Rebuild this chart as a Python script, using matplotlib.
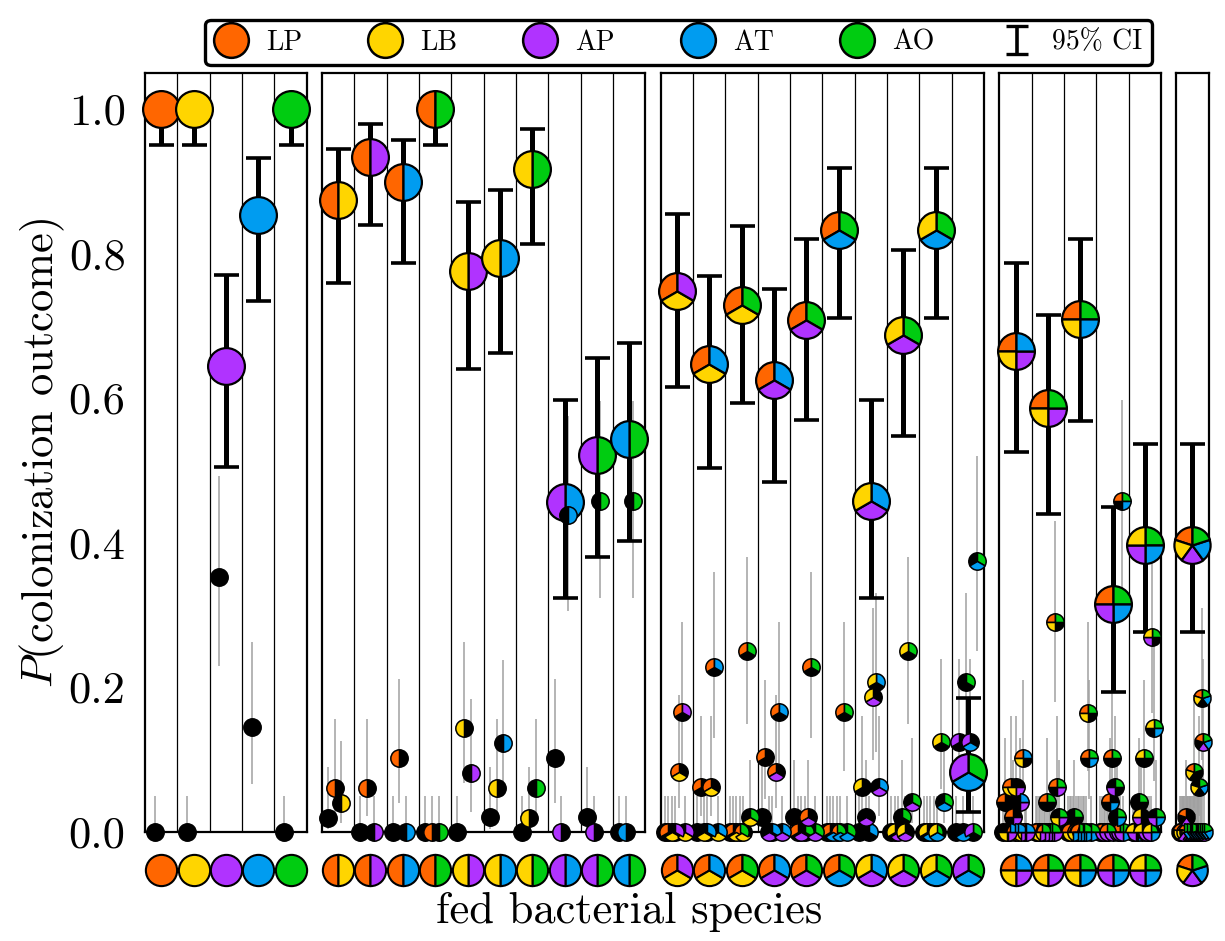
import itertools
import numpy as np
import matplotlib
matplotlib.use('Agg')
import matplotlib.pyplot as plt
from matplotlib.path import Path
from matplotlib.lines import Line2D

plt.rcParams['font.family'] = 'serif'
plt.rcParams['font.serif'] = ['cmr10', 'DejaVu Serif']
plt.rcParams['mathtext.fontset'] = 'cm'
plt.rcParams['axes.formatter.use_mathtext'] = True

# ---- data ----
SPECIES = ['LP', 'LB', 'AP', 'AT', 'AO']
COLORS = {'LP': '#ff6600', 'LB': '#ffd500', 'AP': '#b033ff',
          'AT': '#009cf0', 'AO': '#00cc11'}

PANELS = [
    ['LP', 'LB', 'AP', 'AT', 'AO'],
    ['LP-LB', 'LP-AP', 'LP-AT', 'LP-AO', 'LB-AP', 'LB-AT', 'LB-AO',
     'AP-AT', 'AP-AO', 'AT-AO'],
    ['LP-LB-AP', 'LP-LB-AT', 'LP-LB-AO', 'LP-AP-AT', 'LP-AP-AO',
     'LP-AT-AO', 'LB-AP-AT', 'LB-AP-AO', 'LB-AT-AO', 'AP-AT-AO'],
    ['LP-LB-AP-AT', 'LP-LB-AP-AO', 'LP-LB-AT-AO', 'LP-AP-AT-AO',
     'LB-AP-AT-AO'],
    ['LP-LB-AP-AT-AO'],
]

# probability that the whole fed community survives, with 95% CI
FULL_P = [1.0, 1.0, 0.645, 0.853, 1.0,
          0.875, 0.934, 0.899, 1.0, 0.776, 0.794, 0.917, 0.457, 0.521, 0.543,
          0.749, 0.647, 0.729, 0.625, 0.708, 0.833, 0.458, 0.688, 0.833, 0.083,
          0.665, 0.586, 0.709, 0.316, 0.397,
          0.397]
FULL_LO = [0.95, 0.95, 0.505, 0.734, 0.95,
           0.76, 0.84, 0.787, 0.95, 0.64, 0.662, 0.814, 0.324, 0.381, 0.402,
           0.615, 0.504, 0.593, 0.484, 0.57, 0.711, 0.324, 0.548, 0.711, 0.028,
           0.526, 0.44, 0.568, 0.194, 0.277,
           0.277]
FULL_HI = [1.0, 1.0, 0.77, 0.933, 1.0,
           0.945, 0.98, 0.958, 1.0, 0.871, 0.888, 0.972, 0.598, 0.656, 0.676,
           0.855, 0.769, 0.838, 0.751, 0.821, 0.918, 0.597, 0.805, 0.918, 0.185,
           0.787, 0.715, 0.821, 0.45, 0.537,
           0.537]

# other (partial) outcomes that were observed: community, outcome, p, lo, hi
PARTIAL = [
    ('AP', '', 0.353, 0.229, 0.493),
    ('AT', '', 0.145, 0.066, 0.263),
    ('LP-LB', '', 0.02, 0.004, 0.09),
    ('LP-LB', 'LP', 0.061, 0.022, 0.156),
    ('LP-LB', 'LB', 0.04, 0.012, 0.126),
    ('LP-AP', 'LP', 0.061, 0.022, 0.156),
    ('LP-AT', 'LP', 0.102, 0.04, 0.212),
    ('LB-AP', 'LB', 0.144, 0.068, 0.263),
    ('LB-AP', 'AP', 0.082, 0.028, 0.184),
    ('LB-AT', '', 0.021, 0.004, 0.09),
    ('LB-AT', 'LB', 0.061, 0.022, 0.156),
    ('LB-AT', 'AT', 0.123, 0.05, 0.238),
    ('LB-AO', 'LB', 0.02, 0.004, 0.09),
    ('LB-AO', 'AO', 0.061, 0.022, 0.156),
    ('AP-AT', '', 0.102, 0.04, 0.212),
    ('AP-AT', 'AT', 0.438, 0.306, 0.575),
    ('AP-AO', '', 0.021, 0.004, 0.09),
    ('AP-AO', 'AO', 0.458, 0.324, 0.596),
    ('AT-AO', 'AO', 0.458, 0.324, 0.596),
    ('LP-LB-AP', 'LP-AP', 0.166, 0.085, 0.29),
    ('LP-LB-AP', 'LP-LB', 0.083, 0.033, 0.19),
    ('LP-LB-AT', 'LP', 0.062, 0.022, 0.16),
    ('LP-LB-AT', 'LP-LB', 0.062, 0.022, 0.16),
    ('LP-LB-AT', 'LP-AT', 0.228, 0.13, 0.36),
    ('LP-LB-AO', 'LP-AO', 0.25, 0.15, 0.38),
    ('LP-LB-AO', 'LB-AO', 0.021, 0.004, 0.1),
    ('LP-AP-AT', '', 0.021, 0.004, 0.1),
    ('LP-AP-AT', 'LP', 0.104, 0.045, 0.21),
    ('LP-AP-AT', 'LP-AT', 0.166, 0.085, 0.29),
    ('LP-AP-AT', 'LP-AP', 0.083, 0.033, 0.19),
    ('LP-AP-AO', '', 0.021, 0.004, 0.1),
    ('LP-AP-AO', 'LP-AP', 0.021, 0.004, 0.1),
    ('LP-AP-AO', 'LP-AO', 0.228, 0.13, 0.36),
    ('LP-AT-AO', 'LP-AO', 0.166, 0.085, 0.29),
    ('LB-AP-AT', 'LB', 0.062, 0.022, 0.16),
    ('LB-AP-AT', 'AP-AT', 0.062, 0.022, 0.16),
    ('LB-AP-AT', 'AP', 0.021, 0.004, 0.1),
    ('LB-AP-AT', 'LB-AT', 0.208, 0.11, 0.33),
    ('LB-AP-AT', 'LB-AP', 0.187, 0.1, 0.31),
    ('LB-AP-AO', 'LB-AO', 0.25, 0.15, 0.38),
    ('LB-AP-AO', 'AP-AO', 0.042, 0.012, 0.13),
    ('LB-AP-AO', 'AO', 0.021, 0.004, 0.1),
    ('LB-AT-AO', 'LB-AO', 0.125, 0.06, 0.24),
    ('LB-AT-AO', 'AT-AO', 0.042, 0.012, 0.13),
    ('AP-AT-AO', 'AO', 0.208, 0.11, 0.33),
    ('AP-AT-AO', 'AP', 0.125, 0.06, 0.24),
    ('AP-AT-AO', 'AP-AT', 0.125, 0.06, 0.24),
    ('AP-AT-AO', 'AT-AO', 0.375, 0.25, 0.52),
    ('LP-LB-AP-AT', 'LP-LB-AT', 0.103, 0.045, 0.21),
    ('LP-LB-AP-AT', 'LP-LB', 0.062, 0.022, 0.16),
    ('LP-LB-AP-AT', 'LB-AP', 0.062, 0.022, 0.16),
    ('LP-LB-AP-AT', 'LP', 0.042, 0.012, 0.13),
    ('LP-LB-AP-AT', 'AP-AT', 0.042, 0.012, 0.13),
    ('LP-LB-AP-AT', 'LP-AP', 0.021, 0.004, 0.1),
    ('LP-LB-AP-AO', 'LP-LB-AO', 0.291, 0.18, 0.43),
    ('LP-LB-AP-AO', 'LP-AP-AO', 0.062, 0.022, 0.16),
    ('LP-LB-AP-AO', 'LP-AO', 0.042, 0.012, 0.13),
    ('LP-LB-AP-AO', 'LB-AP-AO', 0.021, 0.004, 0.1),
    ('LP-LB-AT-AO', 'LP-LB-AO', 0.165, 0.085, 0.29),
    ('LP-LB-AT-AO', 'LP-AT-AO', 0.103, 0.045, 0.21),
    ('LP-LB-AT-AO', 'AO', 0.021, 0.004, 0.1),
    ('LP-AP-AT-AO', 'LP-AO', 0.103, 0.045, 0.21),
    ('LP-AP-AT-AO', 'LP-AT', 0.042, 0.012, 0.13),
    ('LP-AP-AT-AO', 'AP-AO', 0.062, 0.022, 0.16),
    ('LP-AP-AT-AO', 'AT-AO', 0.021, 0.004, 0.1),
    ('LP-AP-AT-AO', 'LP-AT-AO', 0.458, 0.324, 0.598),
    ('LB-AP-AT-AO', 'LB-AO', 0.103, 0.045, 0.21),
    ('LB-AP-AT-AO', 'AO', 0.042, 0.012, 0.13),
    ('LB-AP-AT-AO', 'LB-AT-AO', 0.144, 0.07, 0.26),
    ('LB-AP-AT-AO', 'LB-AP-AO', 0.27, 0.165, 0.40),
    ('LB-AP-AT-AO', 'AP-AT-AO', 0.021, 0.004, 0.1),
    ('LB-AP-AT-AO', 'LB-AP', 0.021, 0.004, 0.1),
    ('LP-LB-AP-AT-AO', 'LP-LB-AT-AO', 0.185, 0.1, 0.31),
    ('LP-LB-AP-AT-AO', 'LP-AP-AT-AO', 0.124, 0.06, 0.24),
    ('LP-LB-AP-AT-AO', 'LP-LB-AO', 0.083, 0.033, 0.19),
    ('LP-LB-AP-AT-AO', 'LB-AT-AO', 0.062, 0.022, 0.16),
    ('LP-LB-AP-AT-AO', 'LP-AP', 0.021, 0.004, 0.1),
]
ZERO_HI = 0.05   # upper CI of outcomes never observed
YTICKS = [0.0, 0.2, 0.4, 0.6, 0.8, 1.0]

# ---- layout / style ----
HALF_W = {1: 0.2, 2: 0.31, 3: 0.37, 4: 0.38, 5: 0.38}
BIG_MS, SMALL_MS, ICON_MS = 26.5, 12.5, 22.5
FS = 32

partial = {(c, o): (p, lo, hi) for c, o, p, lo, hi in PARTIAL}
communities = [c for panel in PANELS for c in panel]


def wedge_paths(n):
    if n == 1:
        return [Path.unit_circle()]
    out = []
    for j in range(n):
        t1 = 90 + 360.0 * j / n
        w = Path.wedge(t1, t1 + 360.0 / n)
        # dummy moveto keeps every slice at the same marker scale
        verts = np.vstack([[[1.0, 1.0]], w.vertices])
        codes = np.concatenate([[Path.MOVETO], w.codes])
        out.append(Path(verts, codes))
    return out


PIE = {n: wedge_paths(n) for n in range(1, 6)}


def draw_pies(ax, items, ms, mew, zorder):
    groups = {}
    for x, y, fed, present in items:
        for j, sp in enumerate(fed):
            col = COLORS[sp] if sp in present else 'black'
            groups.setdefault((len(fed), j, col), []).append((x, y))
    for (n, j, col), pts in groups.items():
        xs, ys = zip(*pts)
        ax.plot(xs, ys, ls='none', marker=PIE[n][j], ms=ms, mfc=col,
                mec='black', mew=mew, clip_on=False, zorder=zorder)


fig = plt.figure(figsize=(12.25, 9.41), dpi=100)
W, H = 1225.0, 941.0
col_w, gap = 32.35, 15.2
x0 = 145.0
axes = []
for panel in PANELS:
    wpx = col_w * len(panel)
    ax = fig.add_axes([x0 / W, 1 - 832 / H, wpx / W, 759 / H])
    axes.append(ax)
    x0 += wpx + gap

for ax, panel in zip(axes, PANELS):
    small, big, icons = [], [], []
    gx, glo, ghi = [], [], []
    for i, comm in enumerate(panel):
        fed = comm.split('-')
        n = len(fed)
        outcomes = [o for r in range(n + 1) for o in itertools.combinations(fed, r)]
        N = len(outcomes)
        for k, o in enumerate(outcomes[:-1]):
            x = i + (k - (N - 1) / 2.0) * 2 * HALF_W[n] / (N - 1)
            p, lo, hi = partial.get((comm, '-'.join(o)), (0.0, 0.0, ZERO_HI))
            gx.append(x)
            glo.append(lo)
            ghi.append(hi)
            small.append((x, p, fed, set(o)))
        j = communities.index(comm)
        ax.errorbar([i], [FULL_P[j]],
                    yerr=[[FULL_P[j] - FULL_LO[j]], [FULL_HI[j] - FULL_P[j]]],
                    fmt='none', ecolor='black', elinewidth=3.6, capsize=9,
                    capthick=2.6, zorder=2, clip_on=False)
        big.append((i, FULL_P[j], fed, set(fed)))
        icons.append((i, -0.053, fed, set(fed)))
    ax.vlines(gx, glo, ghi, color='#a0a0a0', lw=1.1, zorder=1)
    draw_pies(ax, big, BIG_MS, 1.6, 3)
    draw_pies(ax, small, SMALL_MS, 1.1, 4)
    draw_pies(ax, icons, ICON_MS, 1.5, 4)
    for b in range(len(panel) - 1):
        ax.axvline(b + 0.5, color='black', lw=0.9, zorder=0)
    ax.set_xlim(-0.5, len(panel) - 0.5)
    ax.set_ylim(0, 1.05)
    ax.set_xticks([])
    for s in ax.spines.values():
        s.set_linewidth(1.6)
    ax.tick_params(axis='y', length=0, pad=14)
    ax.set_yticks(YTICKS)
    if ax is axes[0]:
        ax.set_yticklabels([f'{t:.1f}' for t in YTICKS], fontsize=FS)
        ax.set_ylabel(r'$P$(colonization outcome)', fontsize=FS, labelpad=1)
    else:
        ax.set_yticklabels([])

fig.text(0.514, 1 - 923 / H, 'fed bacterial species', ha='center',
         va='baseline', fontsize=FS)

handles = [Line2D([], [], ls='none', marker='o', ms=25, mfc=COLORS[s],
                  mec='black', mew=1.8) for s in SPECIES]
eb = axes[0].errorbar([-10], [-10], yerr=[0.1], fmt='none', ecolor='black',
                      elinewidth=2.6, capsize=8, capthick=2.4)
handles.append(eb)
leg = fig.legend(handles, SPECIES + ['95% CI'], ncol=6, loc='upper center',
                 bbox_to_anchor=(0.554, 0.994), fontsize=20, frameon=True,
                 fancybox=True, edgecolor='black', framealpha=1,
                 handletextpad=0.7, columnspacing=2.4, borderpad=0.35,
                 handlelength=1.15)
leg.get_frame().set_linewidth(2.4)

fig.savefig('out.png', dpi=100)
